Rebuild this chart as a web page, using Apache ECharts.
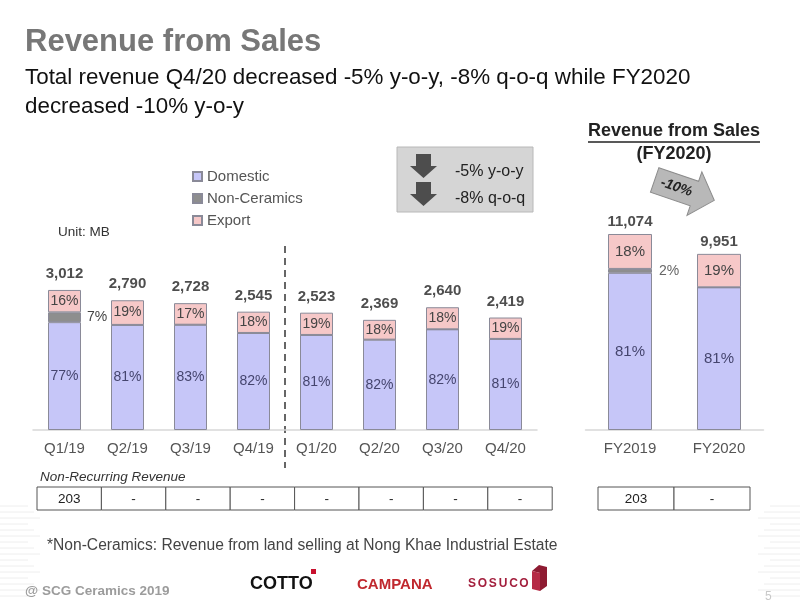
<!DOCTYPE html>
<html>
<head>
<meta charset="utf-8">
<script src="https://cdn.jsdelivr.net/npm/echarts@6/dist/echarts.min.js"></script>
<style>
  html, body { margin: 0; padding: 0; background: #fff; }
  #main { width: 800px; height: 604px; }
</style>
</head>
<body>
<div id="main"></div>
<script>
// quarterly data (MB and % share)
var quarters = ['Q1/19', 'Q2/19', 'Q3/19', 'Q4/19', 'Q1/20', 'Q2/20', 'Q3/20', 'Q4/20'];
var quarterTotals = [3012, 2790, 2728, 2545, 2523, 2369, 2640, 2419];
var domesticPct = [77, 81, 83, 82, 81, 82, 82, 81];
var nonCeramicsPct = [7, 0, 0, 0, 0, 0, 0, 0];
var exportPct = [16, 19, 17, 18, 19, 18, 18, 19];
var nonRecurringQ = ['203', '-', '-', '-', '-', '-', '-', '-'];

// full year data
var years = ['FY2019', 'FY2020'];
var yearTotals = [11074, 9951];
var yearDomesticPct = [81, 81];
var yearNonCeramicsPct = [2, 0];
var yearExportPct = [18, 19];
var nonRecurringFY = ['203', '-'];

var cDomestic = '#c6c6f8';
var cNonCer = '#8e8e8e';
var cExport = '#f6c8c8';
var cBorder = '#8a8a98';

// split a total into segments using the printed shares
function segment(totals, pcts, all) {
  return totals.map(function (t, i) {
    var sum = all.reduce(function (s, a) { return s + a[i]; }, 0);
    return Math.round(t * pcts[i] / sum);
  });
}
var qAll = [domesticPct, nonCeramicsPct, exportPct];
var fAll = [yearDomesticPct, yearNonCeramicsPct, yearExportPct];

function pctLabel(arr) {
  return function (p) { return arr[p.dataIndex] ? arr[p.dataIndex] + '%' : ''; };
}
function totalLabel(p) { return p.value.toLocaleString('en-US'); }

var chart = echarts.init(document.getElementById('main'));

function barSeries(name, data, pcts, color, ax, width, labelOpt) {
  return {
    name: name, type: 'bar', stack: 's' + ax, xAxisIndex: ax, yAxisIndex: ax,
    barWidth: width, data: data, silent: true,
    itemStyle: { color: color, borderColor: cBorder, borderWidth: 1 },
    label: Object.assign({ show: true, formatter: pctLabel(pcts), fontSize: 14, fontFamily: 'Liberation Sans' }, labelOpt)
  };
}
function totalSeries(data, ax, dist) {
  return {
    type: 'scatter', xAxisIndex: ax, yAxisIndex: ax, data: data, symbolSize: 1,
    itemStyle: { color: 'rgba(0,0,0,0)' }, silent: true,
    label: { show: true, position: 'top', distance: dist, formatter: totalLabel,
      fontSize: 15, fontWeight: 'bold', color: '#222', fontFamily: 'Liberation Sans' }
  };
}

var graphics = [
  { type: 'text', style: { text: 'Revenue from Sales', x: 25, y: 42, textVerticalAlign: 'middle', font: 'bold 31px "Liberation Sans"', fill: '#777' } },
  { type: 'text', style: { text: 'Total revenue Q4/20 decreased -5% y-o-y, -8% q-o-q while FY2020', x: 25, y: 78, textVerticalAlign: 'middle', font: '22.4px "Liberation Sans"', fill: '#111' } },
  { type: 'text', style: { text: 'decreased -10% y-o-y', x: 25, y: 107, textVerticalAlign: 'middle', font: '22.4px "Liberation Sans"', fill: '#111' } },
  { type: 'text', style: { text: 'Unit: MB', x: 58, y: 232, textVerticalAlign: 'middle', font: '13.5px "Liberation Sans"', fill: '#333' } },
  // divider between 2019 and 2020
  { type: 'line', shape: { x1: 285, y1: 246, x2: 285, y2: 468 }, style: { stroke: '#666', lineWidth: 2, lineDash: [7, 5] } },
  // change box
  { type: 'rect', shape: { x: 397, y: 147, width: 136, height: 65 }, style: { fill: '#d5d5d5', stroke: '#b8b8b8', lineWidth: 1 } },
  { type: 'polygon', shape: { points: [[416, 154], [431, 154], [431, 166], [437, 166], [423.5, 178], [410, 166], [416, 166]] }, style: { fill: '#4d4d4d' } },
  { type: 'polygon', shape: { points: [[416, 182], [431, 182], [431, 194], [437, 194], [423.5, 206], [410, 194], [416, 194]] }, style: { fill: '#4d4d4d' } },
  { type: 'text', style: { text: '-5% y-o-y', x: 455, y: 172, textVerticalAlign: 'middle', font: '16px "Liberation Sans"', fill: '#222' } },
  { type: 'text', style: { text: '-8% q-o-q', x: 455, y: 199, textVerticalAlign: 'middle', font: '16px "Liberation Sans"', fill: '#222' } },
  // FY title
  { type: 'text', style: { text: 'Revenue from Sales', x: 674, y: 131, textAlign: 'center', textVerticalAlign: 'middle', font: 'bold 18px "Liberation Sans"', fill: '#222' } },
  { type: 'line', shape: { x1: 588, y1: 142, x2: 760, y2: 142 }, style: { stroke: '#222', lineWidth: 1.5 } },
  { type: 'text', style: { text: '(FY2020)', x: 674, y: 154, textAlign: 'center', textVerticalAlign: 'middle', font: 'bold 18px "Liberation Sans"', fill: '#222' } },
  // -10% arrow
  { type: 'group', x: 684, y: 190, rotation: -0.33, children: [
    { type: 'polygon', shape: { points: [[-31, -13], [11, -13], [11, -23], [32, 0], [11, 23], [11, 13], [-31, 13]] }, style: { fill: '#b8b8b8', stroke: '#8c8c8c', lineWidth: 1 } },
    { type: 'text', style: { text: '-10%', x: -8, y: 0, textAlign: 'center', textVerticalAlign: 'middle', font: 'italic bold 14px "Liberation Sans"', fill: '#222' } }
  ] },
  { type: 'text', style: { text: 'Non-Recurring Revenue', x: 40, y: 477, textVerticalAlign: 'middle', font: 'italic 13.5px "Liberation Sans"', fill: '#333' } },
  { type: 'text', style: { text: '*Non-Ceramics: Revenue from land selling at Nong Khae Industrial Estate', x: 47, y: 546, textVerticalAlign: 'middle', font: '15.6px "Liberation Sans"', fill: '#444' } },
  // footer
  { type: 'text', style: { text: '@ SCG Ceramics 2019', x: 25, y: 591, textVerticalAlign: 'middle', font: 'bold 13.5px "Liberation Sans"', fill: '#9c9c9c' } },
  { type: 'text', style: { text: 'COTTO', x: 250, y: 584, textVerticalAlign: 'middle', font: 'bold 18px "Liberation Sans"', fill: '#111' } },
  { type: 'rect', shape: { x: 311, y: 569, width: 5, height: 5 }, style: { fill: '#c8102e' } },
  { type: 'text', style: { text: 'CAMPANA', x: 357, y: 585, textVerticalAlign: 'middle', font: 'bold 15px "Liberation Sans"', fill: '#c0282e' } },
  { type: 'polygon', shape: { points: [[532, 571], [539, 565], [547, 567], [547, 586], [540, 591], [540, 573]] }, style: { fill: '#8e1b32' } },
  { type: 'polygon', shape: { points: [[532, 571], [540, 573], [540, 591], [532, 589]] }, style: { fill: '#b52a45' } },
  { type: 'text', style: { text: '5', x: 765, y: 597, textVerticalAlign: 'middle', font: '12px "Liberation Sans"', fill: '#c8c8c8' } }
];

// SOSUCO letters, spaced out
'SOSUCO'.split('').forEach(function (ch, i) {
  graphics.push({ type: 'text', style: { text: ch, x: 472 + i * 10.4, y: 584, textAlign: 'center', textVerticalAlign: 'middle', font: 'bold 12px "Liberation Sans"', fill: '#a31f3d' } });
});

// faint stripes at the page edges
for (var s = 0; s < 16; s++) {
  var yy = 506 + s * 6;
  graphics.push({ type: 'line', z: -1, shape: { x1: 0, y1: yy, x2: 28 + (s % 3) * 6, y2: yy }, style: { stroke: '#eeeeee', lineWidth: 1 } });
  graphics.push({ type: 'line', z: -1, shape: { x1: 770 - (s % 3) * 6, y1: yy, x2: 800, y2: yy }, style: { stroke: '#eeeeee', lineWidth: 1 } });
}

// non-recurring table cells
function tableRow(vals, x0, w) {
  vals.forEach(function (v, i) {
    graphics.push({ type: 'rect', shape: { x: x0 + i * w, y: 487, width: w, height: 23 }, style: { fill: '#fff', stroke: '#555', lineWidth: 1 } });
    graphics.push({ type: 'text', style: { text: v, x: x0 + i * w + w / 2, y: 499, textAlign: 'center', textVerticalAlign: 'middle', font: '13.5px "Liberation Sans"', fill: '#222' } });
  });
}
tableRow(nonRecurringQ, 37, 64.4);
tableRow(nonRecurringFY, 598, 76);

var axisCommon = {
  type: 'category',
  axisLine: { lineStyle: { color: '#d8d8d8', width: 1.5 } },
  axisTick: { show: false },
  axisLabel: { color: '#555', fontSize: 15, margin: 11, fontFamily: 'Liberation Sans' }
};

var option = {
  animation: false,
  textStyle: { fontFamily: 'Liberation Sans' },
  legend: {
    data: ['Domestic', 'Non-Ceramics', 'Export'],
    orient: 'vertical', left: 187, top: 164,
    itemWidth: 9, itemHeight: 9, itemGap: 7, icon: 'rect',
    textStyle: { color: '#555', fontSize: 15 }
  },
  grid: [
    { left: 33, width: 504, top: 104.5, bottom: 174 },
    { left: 585.5, width: 178, top: 76, bottom: 174 }
  ],
  xAxis: [
    Object.assign({ gridIndex: 0, data: quarters }, axisCommon),
    Object.assign({ gridIndex: 1, data: years }, axisCommon)
  ],
  yAxis: [
    { gridIndex: 0, type: 'value', min: 0, max: 7000, show: false },
    { gridIndex: 1, type: 'value', min: 0, max: 20000, show: false }
  ],
  series: [
    barSeries('Domestic', segment(quarterTotals, domesticPct, qAll), domesticPct, cDomestic, 0, 33, { color: '#45456e' }),
    barSeries('Non-Ceramics', segment(quarterTotals, nonCeramicsPct, qAll), nonCeramicsPct, cNonCer, 0, 33, { position: 'right', distance: 6, color: '#444' }),
    barSeries('Export', segment(quarterTotals, exportPct, qAll), exportPct, cExport, 0, 33, { color: '#444' }),
    totalSeries(quarterTotals, 0, 8),
    barSeries('Domestic', segment(yearTotals, yearDomesticPct, fAll), yearDomesticPct, cDomestic, 1, 44, { color: '#45456e', fontSize: 15 }),
    barSeries('Non-Ceramics', segment(yearTotals, yearNonCeramicsPct, fAll), yearNonCeramicsPct, cNonCer, 1, 44, { position: 'right', distance: 7, color: '#666', fontSize: 14 }),
    barSeries('Export', segment(yearTotals, yearExportPct, fAll), yearExportPct, cExport, 1, 44, { color: '#444', fontSize: 15 }),
    totalSeries(yearTotals, 1, 4)
  ],
  graphic: graphics
};
chart.setOption(option);
</script>
</body>
</html>
